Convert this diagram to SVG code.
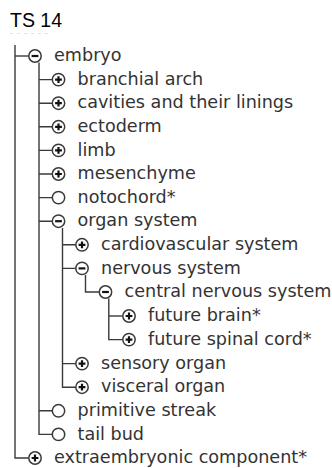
<svg xmlns="http://www.w3.org/2000/svg" xmlns:xlink="http://www.w3.org/1999/xlink" width="332" height="468" viewBox="0 0 332 468">
  <style>
    .t { font-family: "DejaVu Sans", "Noto Sans", sans-serif; font-size: 17.6px; fill: #333; }
    .title { font-family: "Liberation Sans", Arial, sans-serif; font-size: 19.5px; fill: #000; }
    .ln { stroke: #3a3a3a; stroke-width: 1.4; fill: none; }
    .ic circle { fill: #fff; stroke: #3a3a3a; stroke-width: 1.5; }
    .ic path { stroke: #111; stroke-width: 2.2; fill: none; }
  </style>
  <defs>
    <g id="plus" class="ic"><circle r="6.2"/><path d="M-3.4 0H3.4M0 -3.4V3.4"/></g>
    <g id="minus" class="ic"><circle r="6.2"/><path d="M-3.4 0H3.4"/></g>
    <g id="leaf" class="ic"><circle r="6.2"/></g>
  </defs>
  <rect width="332" height="468" fill="#fff"/>
  <text class="title" x="10" y="26.5">TS 14</text>
  <path d="M10 33.5H52" stroke="#e4e4e4" stroke-width="1" stroke-dasharray="3 4"/>

  <g id="connectors" class="ln">
    <path d="M15 45V458H28.8"/>
    <path d="M15 56H28.8"/>
    <path d="M39 62.5V434.4H52.3"/>
    <path d="M39 79.6H52.3M39 103.2H52.3M39 126.8H52.3M39 150.4H52.3M39 174H52.3M39 197.6H52.3M39 221.2H52.3M39 410.8H52.3"/>
    <path d="M62.5 228V387.2H75.8"/>
    <path d="M62.5 244.8H75.8M62.5 268.4H75.8M62.5 363.6H75.8"/>
    <path d="M85.5 275V292H99.3"/>
    <path d="M108.8 298.5V339.6H122.8"/>
    <path d="M108.8 316H122.8"/>
  </g>

  <g id="n-embryo"><use xlink:href="#minus" x="35" y="56"/><text class="t" x="54" y="61.2">embryo</text></g>
  <g id="n-branchial-arch"><use xlink:href="#plus" x="58.5" y="79.6"/><text class="t" x="77.5" y="84.8">branchial arch</text></g>
  <g id="n-cavities"><use xlink:href="#plus" x="58.5" y="103.2"/><text class="t" x="77.5" y="108.4">cavities and their linings</text></g>
  <g id="n-ectoderm"><use xlink:href="#plus" x="58.5" y="126.8"/><text class="t" x="77.5" y="132">ectoderm</text></g>
  <g id="n-limb"><use xlink:href="#plus" x="58.5" y="150.4"/><text class="t" x="77.5" y="155.6">limb</text></g>
  <g id="n-mesenchyme"><use xlink:href="#plus" x="58.5" y="174"/><text class="t" x="77.5" y="179.2">mesenchyme</text></g>
  <g id="n-notochord"><use xlink:href="#leaf" x="58.5" y="197.6"/><text class="t" x="77.5" y="202.8">notochord*</text></g>
  <g id="n-organ-system"><use xlink:href="#minus" x="58.5" y="221.2"/><text class="t" x="77.5" y="226.4">organ system</text></g>
  <g id="n-cardiovascular"><use xlink:href="#plus" x="82" y="244.8"/><text class="t" x="101" y="250">cardiovascular system</text></g>
  <g id="n-nervous-system"><use xlink:href="#minus" x="82" y="268.4"/><text class="t" x="101" y="273.6">nervous system</text></g>
  <g id="n-cns"><use xlink:href="#minus" x="105.5" y="292"/><text class="t" x="124.5" y="297.2">central nervous system</text></g>
  <g id="n-future-brain"><use xlink:href="#plus" x="129" y="316"/><text class="t" x="148" y="321.2">future brain*</text></g>
  <g id="n-future-spinal-cord"><use xlink:href="#plus" x="129" y="339.6"/><text class="t" x="148" y="344.8">future spinal cord*</text></g>
  <g id="n-sensory-organ"><use xlink:href="#plus" x="82" y="363.6"/><text class="t" x="101" y="368.8">sensory organ</text></g>
  <g id="n-visceral-organ"><use xlink:href="#plus" x="82" y="387.2"/><text class="t" x="101" y="392.4">visceral organ</text></g>
  <g id="n-primitive-streak"><use xlink:href="#leaf" x="58.5" y="410.8"/><text class="t" x="77.5" y="416">primitive streak</text></g>
  <g id="n-tail-bud"><use xlink:href="#leaf" x="58.5" y="434.4"/><text class="t" x="77.5" y="439.6">tail bud</text></g>
  <g id="n-extraembryonic"><use xlink:href="#plus" x="35" y="458"/><text class="t" x="54" y="463.2">extraembryonic component*</text></g>
</svg>
